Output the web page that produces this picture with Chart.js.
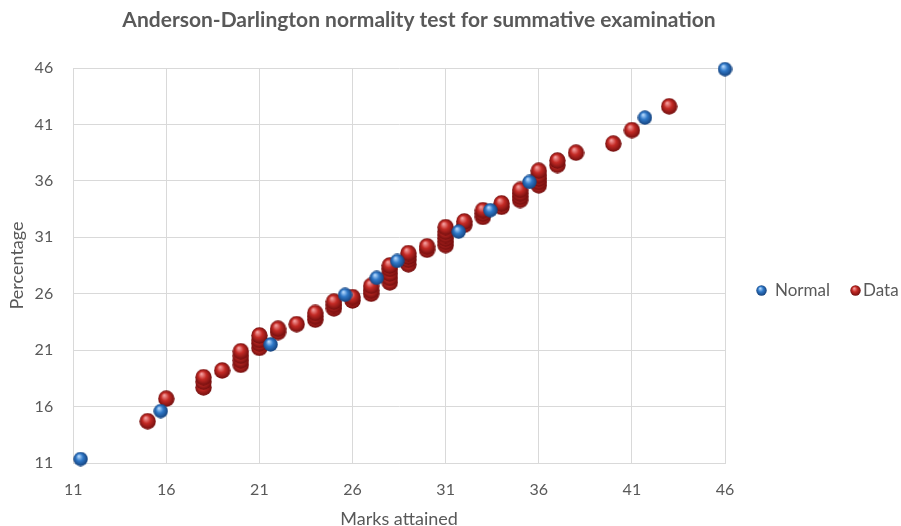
<!DOCTYPE html>
<html>
<head>
<meta charset="utf-8">
<script src="https://cdn.jsdelivr.net/npm/chart.js@4.4.1/dist/chart.umd.min.js"></script>
<style>
  html, body { margin: 0; padding: 0; background: #fff; }
  #wrap { width: 901px; height: 526px; }
</style>
</head>
<body>
<div id="wrap"><canvas id="chartCanvas"></canvas></div>
<script>
const chartTitle = "Anderson-Darlington normality test for summative examination";
const xTitle = "Marks attained";
const yTitle = "Percentage";
const seriesNames = ["Normal", "Data"];
const tickValues = [11, 16, 21, 26, 31, 36, 41, 46];

// Normal (only the ones that show from behind the red ones)
const normalX = [11.4, 15.7, 21.6, 25.6, 27.3, 28.4, 31.7, 33.4, 35.5, 41.7, 46.0];
const normalY = [11.35, 15.6, 21.5, 25.9, 27.4, 28.9, 31.5, 33.4, 35.9, 41.6, 45.9];

// Data: marks attained vs percentage
const dataX = [15, 16, 18, 18, 18, 19, 20, 20, 20, 20, 21, 21, 21, 21, 22, 22, 23,
  24, 24, 24, 25, 25, 25, 26, 26, 27, 27, 27, 28, 28, 28, 28, 28, 29, 29, 29, 29,
  30, 30, 31, 31, 31, 31, 31, 31, 32, 32, 33, 33, 33, 34, 34, 35, 35, 35, 35,
  36, 36, 36, 36, 36, 37, 37, 38, 40, 41, 43];
const dataY = [14.7, 16.7, 17.7, 18.2, 18.6, 19.2, 19.7, 20.1, 20.5, 20.9, 21.2, 21.6, 21.9, 22.3, 22.6, 22.9, 23.3,
  23.7, 24.0, 24.3, 24.7, 25.0, 25.3, 25.4, 25.7, 26.0, 26.3, 26.7, 27.0, 27.4, 27.8, 28.2, 28.5, 28.6, 29.0, 29.3, 29.6,
  29.9, 30.2, 30.3, 30.6, 30.9, 31.2, 31.5, 31.9, 32.1, 32.4, 32.8, 33.1, 33.4, 33.7, 34.0, 34.3, 34.6, 34.9, 35.2,
  35.6, 35.9, 36.2, 36.5, 36.9, 37.4, 37.8, 38.5, 39.3, 40.5, 42.6];

const FONT = "Lato, 'Open Sans', sans-serif";
const GRAY = "#595959";

function sphere(d, light, mid, dark) {
  const c = document.createElement("canvas");
  c.width = d; c.height = d;
  const g = c.getContext("2d");
  const r = d / 2;
  const grad = g.createRadialGradient(r * 0.75, r * 0.6, r * 0.05, r, r, r);
  grad.addColorStop(0, light);
  grad.addColorStop(0.45, mid);
  grad.addColorStop(1, dark);
  g.fillStyle = grad;
  g.beginPath();
  g.arc(r, r, r - 0.3, 0, Math.PI * 2);
  g.fill();
  return c;
}

const blueBall = sphere(15, "#b9dcff", "#2f78c8", "#143f78");
const redBall = sphere(17, "#f5a0a0", "#c42a25", "#6e0d0d");
const blueSmall = sphere(11, "#b9dcff", "#2f78c8", "#143f78");
const redSmall = sphere(11, "#f5a0a0", "#c42a25", "#6e0d0d");

const normalPts = normalX.map((x, i) => ({ x: x, y: normalY[i] }));
const dataPts = dataX.map((x, i) => ({ x: x, y: dataY[i] }));

const extras = {
  id: "extras",
  afterDraw(chart) {
    const ctx = chart.ctx;
    ctx.save();
    ctx.fillStyle = GRAY;
    ctx.font = "bold 21px " + FONT;
    ctx.textAlign = "center";
    ctx.textBaseline = "middle";
    ctx.fillText(chartTitle, 419, 20);

    // legend
    ctx.font = "17px " + FONT;
    ctx.textAlign = "left";
    ctx.drawImage(blueSmall, 756, 285);
    ctx.fillText(seriesNames[0], 775, 291);
    ctx.drawImage(redSmall, 850, 285);
    ctx.fillText(seriesNames[1], 863, 291);
    ctx.restore();
  }
};

new Chart(chartCanvas, {
  type: "scatter",
  data: {
    datasets: [
      { label: seriesNames[0], data: normalPts, pointStyle: blueBall, pointRadius: 7, clip: false },
      { label: seriesNames[1], data: dataPts, pointStyle: redBall, pointRadius: 8, clip: false }
    ]
  },
  options: {
    responsive: true,
    maintainAspectRatio: false,
    animation: false,
    events: [],
    layout: { padding: { top: 68, right: 176, left: 6, bottom: 0 } },
    plugins: {
      legend: { display: false },
      tooltip: { enabled: false },
      title: { display: false }
    },
    scales: {
      x: {
        type: "linear",
        min: 11, max: 46,
        afterBuildTicks: s => { s.ticks = tickValues.map(v => ({ value: v })); },
        grid: { color: "#d9d9d9", drawTicks: false },
        border: { color: "#d9d9d9" },
        ticks: { color: GRAY, font: { family: FONT, size: 16 }, padding: 17 },
        // chart.js reserves tick padding twice, so the title padding eats it back
        title: { display: true, text: xTitle, color: GRAY, font: { family: FONT, size: 18, lineHeight: 0.8 }, padding: { top: -4.6, bottom: 0 } }
      },
      y: {
        type: "linear",
        min: 11, max: 46,
        afterBuildTicks: s => { s.ticks = tickValues.map(v => ({ value: v })); },
        grid: { color: "#d9d9d9", drawTicks: false },
        border: { color: "#d9d9d9" },
        ticks: { color: GRAY, font: { family: FONT, size: 16 }, padding: 20 },
        title: { display: true, text: yTitle, color: GRAY, font: { family: FONT, size: 18 }, padding: { top: 0, bottom: -13 } }
      }
    }
  },
  plugins: [extras]
});
</script>
</body>
</html>
